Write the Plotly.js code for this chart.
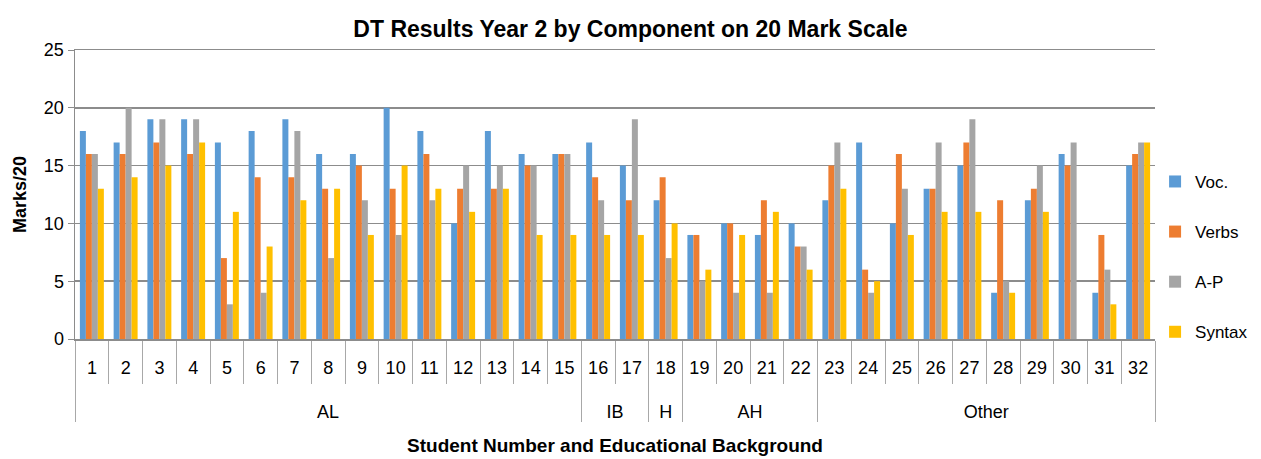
<!DOCTYPE html>
<html>
<head>
<meta charset="utf-8">
<script src="https://cdn.plot.ly/plotly-3.0.1.min.js"></script>
<style>html,body{margin:0;padding:0;background:#fff;}#chart{width:1261px;height:459px;}</style>
</head>
<body>
<div id="chart"></div>
<script>
const students = ["1","2","3","4","5","6","7","8","9","10","11","12","13","14","15","16","17","18","19","20","21","22","23","24","25","26","27","28","29","30","31","32"];
const backgrounds = ["AL","AL","AL","AL","AL","AL","AL","AL","AL","AL","AL","AL","AL","AL","AL","IB","IB","H","AH","AH","AH","AH","Other","Other","Other","Other","Other","Other","Other","Other","Other","Other"];
const voc    = [18,17,19,19,17,18,19,16,16,20,18,10,18,16,16,17,15,12,9,10,9,10,12,17,10,13,15,4,12,16,4,15];
const verbs  = [16,16,17,16,7,14,14,13,15,13,16,13,13,15,16,14,12,14,9,10,12,8,15,6,16,13,17,12,13,15,9,16];
const ap     = [16,20,19,19,3,4,18,7,12,9,12,15,15,15,16,12,19,7,5,4,4,8,17,4,13,17,19,5,15,17,6,17];
const syntax = [13,14,15,17,11,8,12,13,9,15,13,11,13,9,9,9,9,10,6,9,11,6,13,5,9,11,11,4,11,0,3,17];
const seriesNames = ["Voc.","Verbs","A-P","Syntax"];
const seriesColors = ["#5B9BD5","#ED7D31","#A5A5A5","#FFC000"];

const font = "Liberation Sans, Arial, sans-serif";
const vals = [voc, verbs, ap, syntax];
const spacer = '<span style="font-size:27px">\u200a</span>';
const numLabels = students.map(s => spacer + s + spacer);
const groupLabels = backgrounds.map(b => "<br>" + b);
const traces = vals.map((v, i) => ({
  type: "bar",
  x: [groupLabels, numLabels],
  y: v,
  name: seriesNames[i],
  legendgroup: "g" + i,
  marker: {color: seriesColors[i]}
}));

const grey = "#8c8c8c";
const layout = {
  width: 1261, height: 459,
  margin: {l: 75, r: 106, t: 50, b: 120, autoexpand: false},
  paper_bgcolor: "#fff", plot_bgcolor: "#fff",
  barmode: "group",
  bargap: 0.29,
  bargroupgap: 0,
  title: {text: "<b>DT Results Year 2 by Component on 20 Mark Scale</b>", x: 0.5, xanchor: "center", y: 0.955, font: {family: font, size: 23, color: "#000"}},
  font: {family: font, color: "#000"},
  xaxis: {
    type: "multicategory",
    showline: true, linecolor: grey, linewidth: 1.5, mirror: true,
    ticks: "outside", tickson: "boundaries", ticklen: 43, tickcolor: "#a8a8a8", tickwidth: 1,
    ticklabelstandoff: 12, tickangle: 0,
    showdividers: true, dividercolor: "#a8a8a8", dividerwidth: 1,
    tickfont: {family: font, size: 18, color: "#000"},
    title: {text: "<b>Student Number and Educational Background</b>", font: {family: font, size: 19, color: "#000"}, standoff: 18},
    showgrid: false
  },
  yaxis: {
    range: [0, 25], dtick: 5,
    showgrid: true, gridcolor: grey, gridwidth: 1.5,
    showline: true, linecolor: grey, linewidth: 1.5,
    zeroline: false,
    ticks: "outside", ticklen: 6, tickcolor: grey, tickwidth: 1,
    tickfont: {family: font, size: 18, color: "#000"},
    title: {text: "<b>Marks/20</b>", font: {family: font, size: 18, color: "#000"}, standoff: 12}
  },
  legend: {
    xref: "container", x: 0.916, xanchor: "left", y: 0.284, yanchor: "middle",
    font: {family: font, size: 17, color: "#000"},
    tracegroupgap: 25, itemwidth: 30,
    bgcolor: "rgba(0,0,0,0)"
  },
  showlegend: true
};

Plotly.newPlot("chart", traces, layout, {displayModeBar: false, staticPlot: true});
</script>
</body>
</html>
